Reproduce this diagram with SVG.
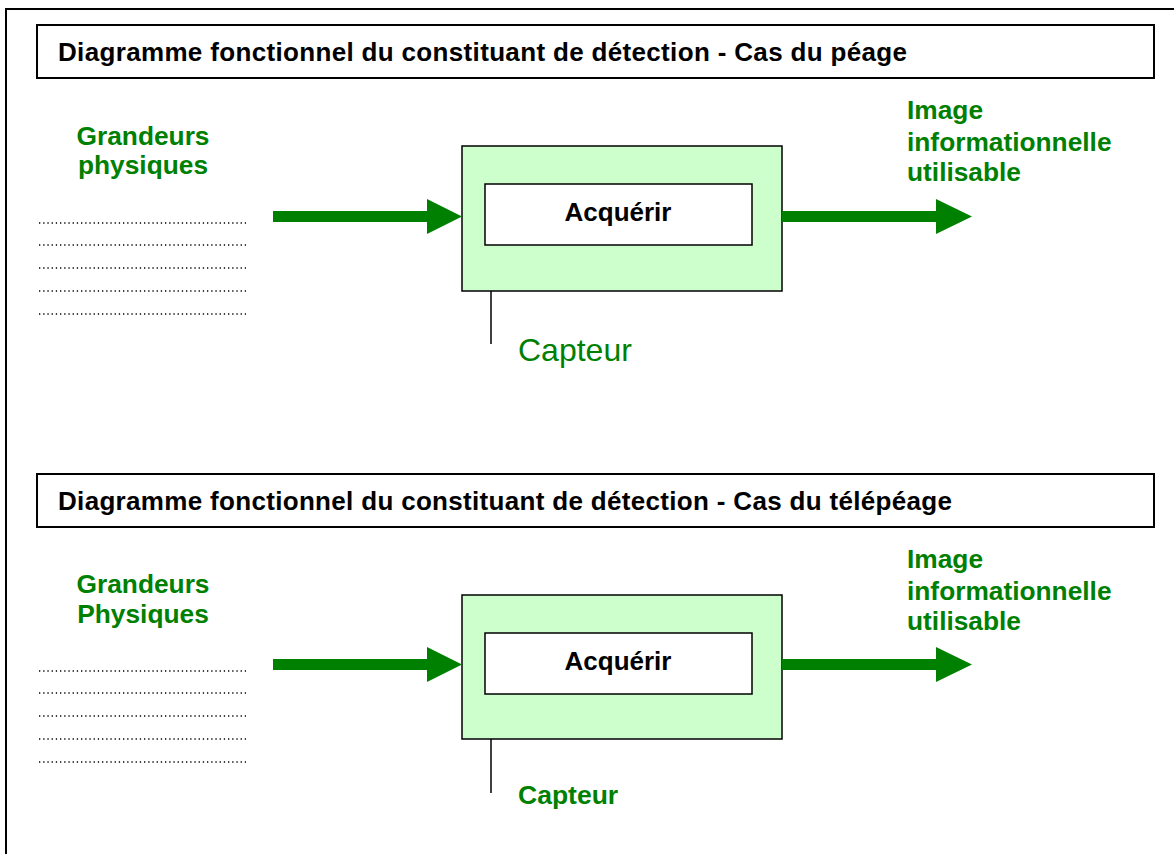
<svg xmlns="http://www.w3.org/2000/svg" width="1174" height="854" viewBox="0 0 1174 854">
<defs>
<style>
.frame{fill:none;stroke:#000;stroke-width:2}
.title{fill:#fff;stroke:#000;stroke-width:2}
.ttl{font-family:"Liberation Sans",Arial,sans-serif;font-weight:bold;font-size:26px;fill:#000}
.grn{font-family:"Liberation Sans",Arial,sans-serif;font-weight:bold;font-size:26.3px;fill:#008000}
.box{fill:#CCFFCC;stroke:#000;stroke-width:1.5}
.inner{fill:#fff;stroke:#000;stroke-width:1.5}
.lbl{font-family:"Liberation Sans",Arial,sans-serif;font-weight:bold;font-size:26px;fill:#000}
.cap1{font-family:"Liberation Sans",Arial,sans-serif;font-size:32px;fill:#008000}
.cap2{font-family:"Liberation Sans",Arial,sans-serif;font-weight:bold;font-size:26.5px;fill:#008000}
.dots{stroke:#000;stroke-width:1.3;stroke-dasharray:1.3 2.9;fill:none}
.tick{stroke:#000;stroke-width:1.5}
.arrow{fill:#008000}
</style>
</defs>
<rect class="frame" x="6" y="9" width="1200" height="900"/>

<g id="section1">
<g id="title1">
<rect class="title" x="37" y="25" width="1117" height="53"/>
<text class="ttl" x="58" y="61" textLength="849" lengthAdjust="spacing">Diagramme fonctionnel du constituant de détection - Cas du péage</text>
</g>
<g id="inputs1">
<text class="grn" text-anchor="middle" x="143" y="145">Grandeurs</text>
<text class="grn" text-anchor="middle" x="143" y="174">physiques</text>
<line class="dots" x1="39" y1="223" x2="246" y2="223"/>
<line class="dots" x1="39" y1="245" x2="246" y2="245"/>
<line class="dots" x1="39" y1="268" x2="246" y2="268"/>
<line class="dots" x1="39" y1="291" x2="246" y2="291"/>
<line class="dots" x1="39" y1="314" x2="246" y2="314"/>
</g>
<g id="acquerir1">
<rect class="box" x="462" y="146" width="320" height="145"/>
<rect class="inner" x="485" y="184" width="267" height="61"/>
<text class="lbl" text-anchor="middle" x="618" y="221">Acquérir</text>
</g>
<g id="capteur1">
<line class="tick" x1="491" y1="291" x2="491" y2="344"/>
<text class="cap1" x="518" y="361">Capteur</text>
</g>
<g id="output1">
<text class="grn" x="907" y="119">Image</text>
<text class="grn" x="907" y="151">informationnelle</text>
<text class="grn" x="907" y="181">utilisable</text>
</g>
</g>

<g id="section2">
<g id="title2">
<rect class="title" x="37" y="474" width="1117" height="53"/>
<text class="ttl" x="58" y="510" textLength="894" lengthAdjust="spacing">Diagramme fonctionnel du constituant de détection - Cas du télépéage</text>
</g>
<g id="inputs2">
<text class="grn" text-anchor="middle" x="143" y="593">Grandeurs</text>
<text class="grn" text-anchor="middle" x="143" y="623">Physiques</text>
<line class="dots" x1="39" y1="671" x2="246" y2="671"/>
<line class="dots" x1="39" y1="693" x2="246" y2="693"/>
<line class="dots" x1="39" y1="716" x2="246" y2="716"/>
<line class="dots" x1="39" y1="739" x2="246" y2="739"/>
<line class="dots" x1="39" y1="762" x2="246" y2="762"/>
</g>
<g id="acquerir2">
<rect class="box" x="462" y="595" width="320" height="144"/>
<rect class="inner" x="485" y="633" width="267" height="61"/>
<text class="lbl" text-anchor="middle" x="618" y="670">Acquérir</text>
</g>
<g id="capteur2">
<line class="tick" x1="491" y1="739" x2="491" y2="793"/>
<text class="cap2" x="518" y="804">Capteur</text>
</g>
<g id="output2">
<text class="grn" x="907" y="568">Image</text>
<text class="grn" x="907" y="600">informationnelle</text>
<text class="grn" x="907" y="630">utilisable</text>
</g>
</g>

<g id="connectors">
<polygon class="arrow" points="273,211 427,211 427,199 462,216.5 427,234 427,222 273,222"/>
<polygon class="arrow" points="782,211 936,211 936,199 972,216.5 936,234 936,222 782,222"/>
<polygon class="arrow" points="273,659 427,659 427,647 462,664.5 427,682 427,670 273,670"/>
<polygon class="arrow" points="782,659 936,659 936,647 972,664.5 936,682 936,670 782,670"/>
</g>
</svg>
